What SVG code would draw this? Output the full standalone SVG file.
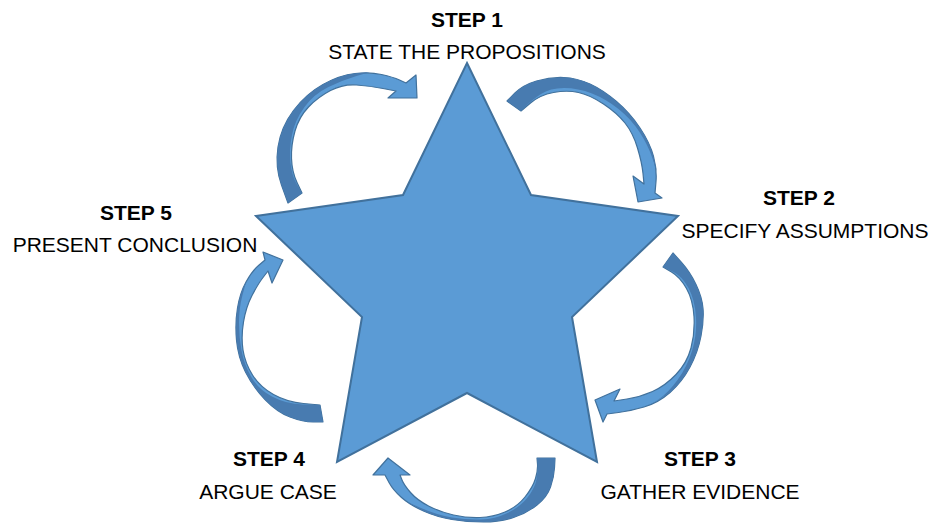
<svg xmlns="http://www.w3.org/2000/svg" width="931" height="523" viewBox="0 0 931 523">
<style>
.star{fill:#5B9BD5;stroke:#41719C;stroke-width:2;stroke-linejoin:miter}
.arw{fill:#5B9BD5;stroke:#41719C;stroke-width:1.2;stroke-linejoin:round}
.shade{fill:#487BB0;stroke:none}
.t{font-family:"Liberation Sans",Arial,sans-serif;font-size:21px;fill:#000;text-anchor:middle}
.b{font-weight:bold}
</style>
<rect width="931" height="523" fill="#FFFFFF"/>
<g id="star">
<polygon class="star" points="467,63 531,195 678,216 572,317 597,462 467,393 337,462 362,317 256,216 403,195"/>
</g>
<g id="step1"><text class="t b" x="467" y="27">STEP 1</text><text class="t" x="467" y="59">STATE THE PROPOSITIONS</text></g>
<g id="step2"><text class="t b" x="799" y="205">STEP 2</text><text class="t" x="805" y="238">SPECIFY ASSUMPTIONS</text></g>
<g id="step3"><text class="t b" x="700" y="466">STEP 3</text><text class="t" x="700" y="499">GATHER EVIDENCE</text></g>
<g id="step4"><text class="t b" x="269" y="466">STEP 4</text><text class="t" x="268" y="499">ARGUE CASE</text></g>
<g id="step5"><text class="t b" x="136" y="220">STEP 5</text><text class="t" x="135" y="252">PRESENT CONCLUSION</text></g>
<g id="connectors">
<g id="arrow1">
<path class="arw" d="M288,203 L281.5,185 Q275,167 278,147 Q281,127 293.5,110.5 Q306,94 323,84.5 Q340,75 355,73.5 Q370,72 381.5,74.5 Q393,77 399.5,80 L406,83 L416,75 L417,98 L388,98 L396,91 L383,88.5 Q370,86 356.5,85 Q343,84 330.5,90.5 Q318,97 308.5,107 Q299,117 295,131 Q291,145 291.5,158.5 Q292,172 297,182.5 L302,193 Z"/>
<path class="shade" d="M288,203 L281.5,185 Q275,167 278,147 Q281,127 293.5,110.5 Q306,94 323,84.5 Q340,75 355,73.5 L370,72 L356.5,76 Q343,80 328.5,87 Q314,94 304.5,107 Q295,120 292,135 Q289,150 290.5,163 Q292,176 297,184.5 L302,193 Z"/>
</g>
<g id="arrow2">
<path class="arw" d="M507,101 L515,93 Q523,85 536.5,81 Q550,77 563.5,77.5 Q577,78 590,84 Q603,90 616.5,101.5 Q630,113 640,128 Q650,143 653.5,156.5 Q657,170 656,181.5 L655,193 L662,198 L638,202 L633,176 L644,184 L643,173.5 Q642,163 637.5,148 Q633,133 625,123 Q617,113 603.5,104 Q590,95 578.5,92.5 Q567,90 553.5,92.5 Q540,95 530.5,103 L521,111 Z"/>
<path class="shade" d="M507,101 L515,93 Q523,85 536.5,81 Q550,77 563.5,77.5 Q577,78 590,84 Q603,90 616.5,101.5 Q630,113 640,128 Q650,143 653.5,156.5 L657,172 L652.5,158.5 Q648,145 639.5,132 Q631,119 618.5,109 Q606,99 592,93.5 Q578,88 564,88 Q550,88 541,94 Q532,100 526.5,105.5 L521,111 Z"/>
</g>
<g id="arrow3">
<path class="arw" d="M673,253 L681.5,262.5 Q690,272 696,284.5 Q702,297 703,308.5 Q704,320 701,336 Q698,352 690,367 Q682,382 670,392.5 Q658,403 644,407 Q630,411 618.5,412.5 L607,414 L603,422 L595,400 L620,389 L614,401 L627,399 Q640,397 652.5,391.5 Q665,386 676,374.5 Q687,363 691,348 Q695,333 694,316.5 Q693,300 686.5,288.5 Q680,277 671.5,272 L663,267 Z"/>
<path class="shade" d="M673,253 L681.5,262.5 Q690,272 696,284.5 Q702,297 703,308.5 Q704,320 701,336 Q698,352 690,367 Q682,382 670,392.5 L650,405 L659,399 Q668,393 677.5,380 Q687,367 692,351 Q697,335 696,317.5 Q695,300 688.5,288 Q682,276 672.5,271.5 L663,267 Z"/>
</g>
<g id="arrow4">
<path class="arw" d="M555,458 L554.5,467.5 Q554,477 550.5,487 Q547,497 537,505 Q527,513 513.5,517.5 Q500,522 483.5,522 Q467,522 452,519.5 Q437,517 423.5,511 Q410,505 401.5,497.5 Q393,490 389,482.5 L385,475 L373,475 L388,458 L410,475 L400,475 L402,480 Q404,485 410.5,492.5 Q417,500 428.5,506 Q440,512 453.5,515 Q467,518 480,517.5 Q493,517 505,512 Q517,507 525,497 Q533,487 535.5,478.5 Q538,470 537.5,464 L537,458 Z"/>
<path class="shade" d="M555,458 L554.5,467.5 Q554,477 550.5,487 Q547,497 537,505 Q527,513 513.5,517.5 Q500,522 483.5,522 Q467,522 452,519.5 Q437,517 423.5,511 L405,501 L421,508 Q437,515 452,517.5 Q467,520 481,519.5 Q495,519 507.5,513 Q520,507 527.5,497.5 Q535,488 536.5,479 Q538,470 537.5,464 L537,458 Z"/>
</g>
<g id="arrow5">
<path class="arw" d="M323,422 L313,422 Q303,422 290,417 Q277,412 265,399.5 Q253,387 245.5,372 Q238,357 236.5,340 Q235,323 237.5,308 Q240,293 246,282 Q252,271 258.5,265.5 L265,260 L263,252 L283,260 L272,283 L268,271 L263,277.5 Q258,284 252,295.5 Q246,307 243.5,322 Q241,337 243,350 Q245,363 252.5,375 Q260,387 273.5,394.5 Q287,402 303.5,403.5 L320,405 Z"/>
<path class="shade" d="M323,422 L313,422 Q303,422 290,417 Q277,412 265,399.5 Q253,387 245.5,372 Q238,357 236.5,340 Q235,323 237.5,308 Q240,293 246,282 L242.5,295 Q239,308 239,322.5 Q239,337 241.5,350.5 Q244,364 251,376.5 Q258,389 272,396.5 Q286,404 303,404.5 L320,405 Z"/>
</g>
</g>
</svg>
